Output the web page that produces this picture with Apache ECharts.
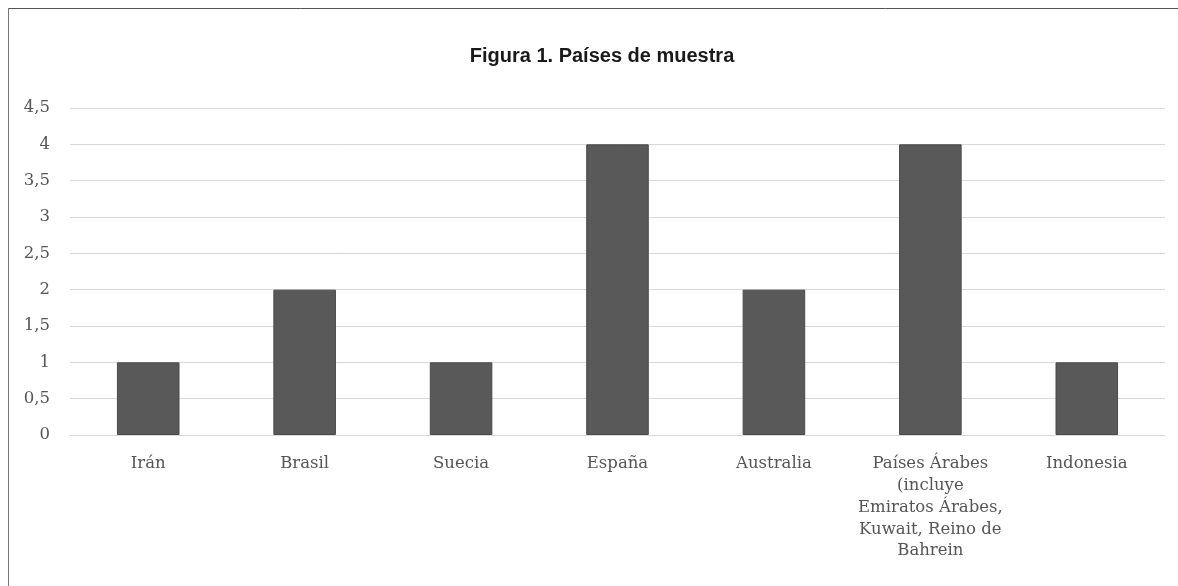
<!DOCTYPE html>
<html>
<head>
<meta charset="utf-8">
<script src="https://cdn.jsdelivr.net/npm/echarts@6/dist/echarts.min.js"></script>
<style>
html,body{margin:0;padding:0;background:#fff;}
#c{width:1178px;height:586px;}
</style>
</head>
<body>
<div id="c"></div>
<script>
const categories = ['Irán', 'Brasil', 'Suecia', 'España', 'Australia',
  'Países Árabes\n(incluye\nEmiratos Árabes,\nKuwait, Reino de\nBahrein', 'Indonesia'];
const values = [1, 2, 1, 4, 2, 4, 1];
const titleText = 'Figura 1. Países de muestra';

const chart = echarts.init(document.getElementById('c'), null, {renderer: 'canvas'});
chart.setOption({
  animation: false,
  backgroundColor: '#ffffff',
  title: {
    text: titleText,
    left: 597, top: 41, textAlign: 'center',
    textStyle: {fontFamily: 'Liberation Sans, Arial, sans-serif', fontWeight: 'bold', fontSize: 20, color: '#1a1a1a'}
  },
  graphic: [
    {type: 'line', shape: {x1: 8, y1: 8.5, x2: 1178, y2: 8.5}, style: {stroke: '#555', lineWidth: 1}},
    {type: 'line', shape: {x1: 8.5, y1: 8, x2: 8.5, y2: 586}, style: {stroke: '#777', lineWidth: 1}}
  ],
  grid: {left: 70, right: 13, top: 108, bottom: 151, containLabel: false},
  xAxis: {
    type: 'category',
    data: categories,
    axisLine: {show: true, lineStyle: {color: '#d9d9d9'}},
    axisTick: {show: false},
    axisLabel: {
      interval: 0, margin: 18, lineHeight: 21.8,
      fontFamily: 'DejaVu Serif, serif', fontSize: 16.5, color: '#555555'
    }
  },
  yAxis: {
    type: 'value', min: 0, max: 4.5, interval: 0.5,
    axisLine: {show: false}, axisTick: {show: false},
    splitLine: {lineStyle: {color: '#d9d9d9', width: 1}},
    axisLabel: {
      margin: 20, fontFamily: 'DejaVu Serif, serif', fontSize: 16.5, color: '#555555',
      formatter: v => String(v).replace('.', ',')
    }
  },
  series: [{
    type: 'bar',
    data: values,
    barWidth: '40%',
    itemStyle: {color: '#595959', borderColor: '#4a4a4a', borderWidth: 1}
  }]
});
</script>
</body>
</html>
